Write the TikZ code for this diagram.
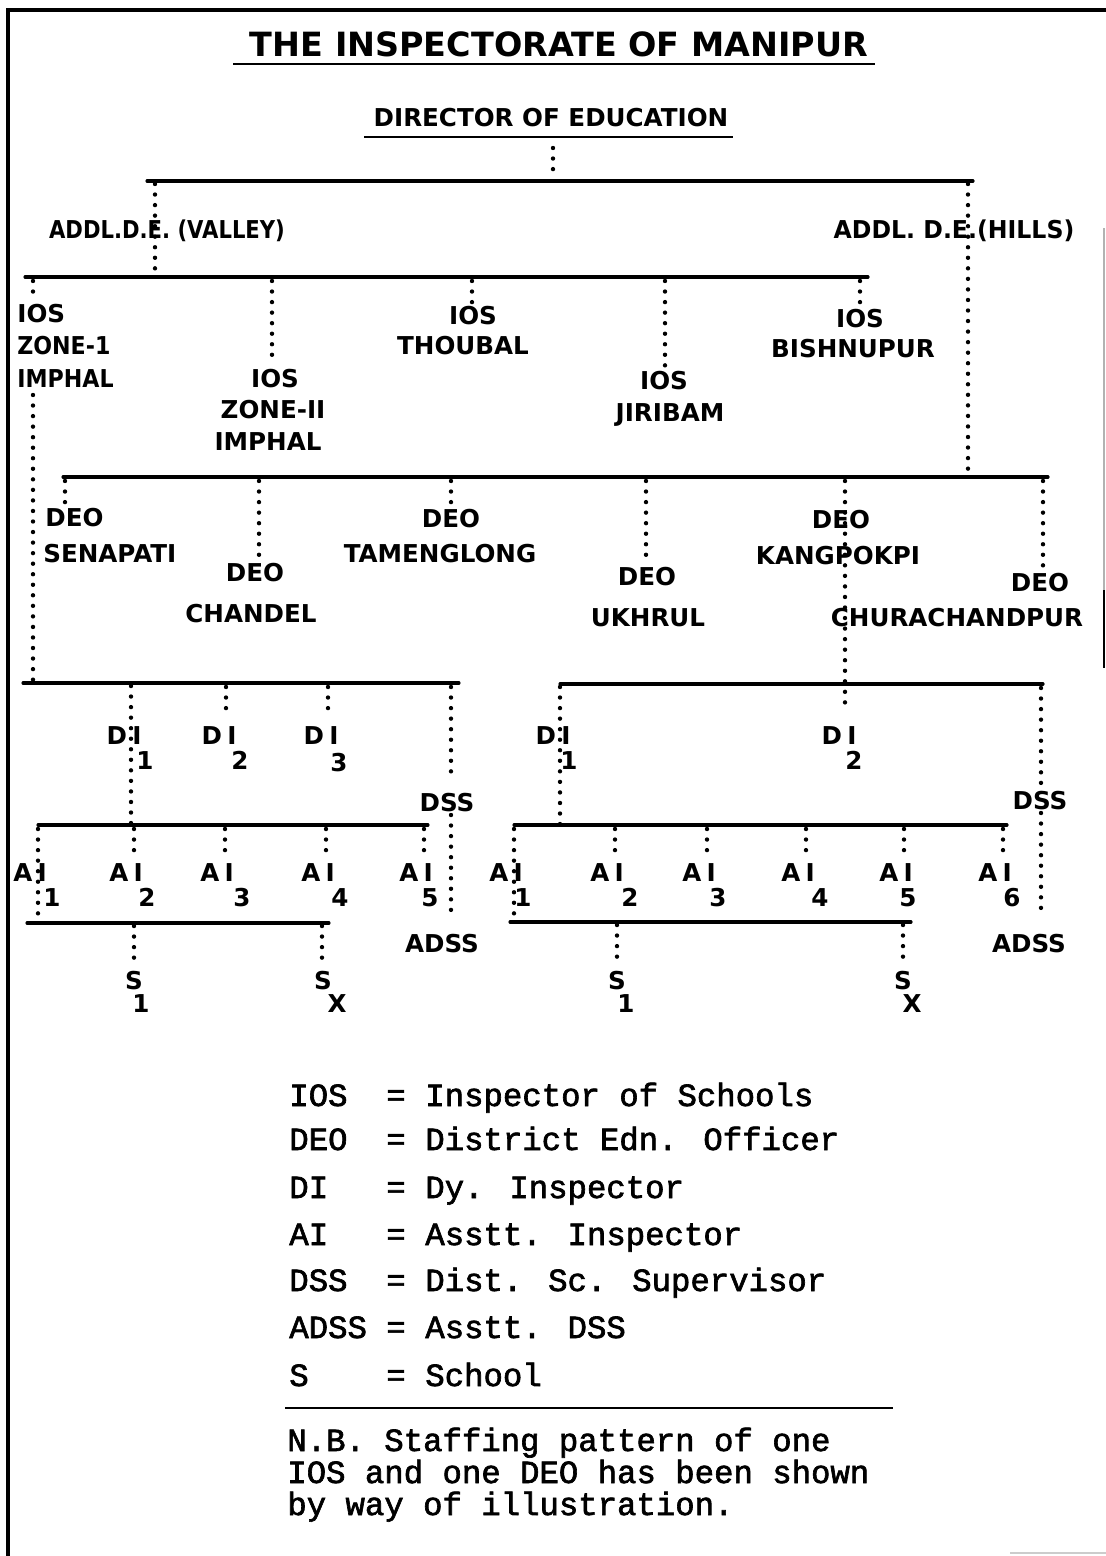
\documentclass[tikz,border=0pt]{standalone}
\usepackage{fontspec}
\usepackage{graphicx}
\newfontfamily\lab{DejaVu Sans}
\newfontfamily\mono[FakeBold=2]{Liberation Mono}
\begin{document}
\begin{tikzpicture}[x=0.02cm,y=-0.02cm]
\tikzset{
  frame/.style={line width=1.8pt},
  bar/.style={line width=1.8pt, line cap=round},
  ul/.style={line width=1.6pt},
  dots/.style={line width=2.5pt, line cap=round, dash pattern=on 0pt off 6pt},
  lab/.style={font=\lab\bfseries\fontsize{14}{17}\selectfont, inner sep=0pt, text height=10.3pt, text depth=0pt},
  ttl/.style={font=\lab\bfseries\fontsize{19}{22}\selectfont, inner sep=0pt, text height=13.9pt, text depth=0pt},
  leg/.style={font=\mono\fontsize{18.4}{22}\selectfont, inner sep=0pt},
}
\useasboundingbox (0,0) rectangle (1106,1556);
% frame
\draw[frame] (8,1556) -- (8,10) -- (1106,10);
\draw[line width=0.8pt, gray!60] (1104,228) -- (1104,590);
\draw[line width=1.5pt] (1104,590) -- (1104,668);
\draw[line width=0.8pt, gray!40] (1010,1553) -- (1106,1553);

% title
\node[ttl] (title) at (559,44) {THE INSPECTORATE OF MANIPUR};
\draw[ul] (233,64) -- (875,64);
\node[lab] (dir) at (551,117) {DIRECTOR OF EDUCATION};
\draw[ul] (364,137) -- (733,137);

% bars
\coordinate (b1L) at (147,181); \coordinate (b1R) at (973,181);
\coordinate (b2L) at (25,277);  \coordinate (b2R) at (868,277);
\coordinate (b3L) at (63,477);  \coordinate (b3R) at (1048,477);
\coordinate (b4L) at (23,683);  \coordinate (b4R) at (459,683);
\coordinate (b5L) at (560,684); \coordinate (b5R) at (1043,684);
\coordinate (b6L) at (38,825);  \coordinate (b6R) at (428,825);
\coordinate (b7L) at (514,825); \coordinate (b7R) at (1007,825);
\coordinate (b8L) at (27,923);  \coordinate (b8R) at (329,923);
\coordinate (b9L) at (510,922); \coordinate (b9R) at (911,922);
\foreach \b in {1,...,9} {\draw[bar] (b\b L) -- (b\b R);}

% level 1
\coordinate (t0) at (553,148);
\draw[dots] (t0) -- (t0 |- 0,176);
\node[lab] (valley) at (167,229) {\scalebox{0.86}[1]{ADDL.D.E. (VALLEY)}};
\node[lab] (hills) at (954,229) {\scalebox{0.96}[1]{ADDL. D.E.(HILLS)}};
\coordinate (tv) at (155,184);
\draw[dots] (tv) -- (tv |- b2L);
\coordinate (th) at (968,184);
\draw[dots] (th) -- (th |- 0,471);

% IOS
\node[lab, anchor=west] (ios1a) at (17,313) {IOS};
\node[lab, anchor=west] (ios1b) at (17,345) {\scalebox{0.9}[1]{ZONE-1}};
\node[lab, anchor=west] (ios1c) at (17,378) {\scalebox{0.9}[1]{IMPHAL}};
\node[lab] (ios2a) at (275,378) {IOS};
\node[lab] (ios2b) at (273,409) {ZONE-II};
\node[lab] (ios2c) at (268,441) {IMPHAL};
\node[lab] (ios3a) at (473,315) {IOS};
\node[lab] (ios3b) at (463,345) {THOUBAL};
\node[lab] (ios4a) at (664,380) {IOS};
\node[lab] (ios4b) at (670,412) {JIRIBAM};
\node[lab] (ios5a) at (860,318) {IOS};
\node[lab] (ios5b) at (853,348) {BISHNUPUR};
\coordinate (tz1) at (33,281);
\draw[dots] (tz1) -- (tz1 |- 0,297);
\draw[dots] (tz1 |- 0,395) -- (tz1 |- b4L);
\foreach \x/\n in {272/2,472/3,665/4,860/5} {
  \coordinate (tz\n) at (\x,281);
  \draw[dots] (tz\n) -- ([yshift=2pt]tz\n |- ios\n a.north);
}

% DEO
\node[lab, anchor=west] (deo1a) at (45,517) {DEO};
\node[lab, anchor=west] (deo1b) at (43,553) {SENAPATI};
\node[lab] (deo2a) at (255,572) {DEO};
\node[lab] (deo2b) at (251,613) {CHANDEL};
\node[lab] (deo3a) at (451,518) {DEO};
\node[lab] (deo3b) at (440,553) {TAMENGLONG};
\node[lab] (deo4a) at (647,576) {DEO};
\node[lab] (deo4b) at (648,617) {UKHRUL};
\node[lab] (deo5a) at (841,519) {DEO};
\node[lab] (deo5b) at (838,555) {KANGPOKPI};
\node[lab] (deo6a) at (1040,582) {DEO};
\node[lab] (deo6b) at (957,617) {CHURACHANDPUR};
\foreach \x/\n in {65/1,259/2,451/3,646/4,1043/6} {
  \coordinate (td\n) at (\x,481);
  \draw[dots] (td\n) -- ([yshift=3pt]td\n |- deo\n a.north);
}
\coordinate (td5) at (845,481);

% left DI level
\node[lab] (ldi1) at (124,735) {D\kern3pt I};
\node[lab] (ldi1s) at (145,760) {1};
\node[lab] (ldi2) at (219,735) {D\kern3pt I};
\node[lab] (ldi2s) at (240,760) {2};
\node[lab] (ldi3) at (321,735) {D\kern3pt I};
\node[lab] (ldi3s) at (339,762) {3};
\node[lab] (ldss) at (447,802) {DSS};
\node[lab] (ladss) at (442,943) {ADSS};
\coordinate (tl1) at (131,686);
\draw[dots] (tl1) -- (tl1 |- b6L);
\coordinate (tl2) at (226,687);
\draw[dots] (tl2) -- (tl2 |- 0,712);
\coordinate (tl3) at (328,687);
\draw[dots] (tl3) -- (tl3 |- 0,716);
\coordinate (tl4) at (451,687);
\draw[dots] (tl4) -- (tl4 |- 0,780);
\draw[dots] (tl4 |- 0,815) -- (tl4 |- 0,912);

% right DI level
\draw[dots] (td5) -- (td5 |- 0,712);
\node[lab] (rdi1) at (553,735) {D\kern3pt I};
\node[lab] (rdi1s) at (569,760) {1};
\node[lab] (rdi2) at (839,735) {D\kern3pt I};
\node[lab] (rdi2s) at (854,760) {2};
\node[lab] (rdss) at (1040,800) {DSS};
\node[lab] (radss) at (1029,943) {ADSS};
\coordinate (tr1) at (560,687);
\draw[dots] (tr1) -- (tr1 |- b7L);
\coordinate (tr4) at (1041,688);
\draw[dots] (tr4) -- (tr4 |- 0,789);
\draw[dots] (tr4 |- 0,813) -- (tr4 |- 0,910);

% left AI level
\foreach \x/\n in {38/1,134/2,225/3,326/4,424/5} {
  \node[lab] (lai\n) at (\x-8,872) {A\kern3pt I};
  \coordinate (la\n) at (\x,829);
}
\node[lab] (lai1s) at (52,897) {1};
\node[lab] (lai2s) at (147,897) {2};
\node[lab] (lai3s) at (242,897) {3};
\node[lab] (lai4s) at (340,897) {4};
\node[lab] (lai5s) at (430,897) {5};
\draw[dots] (la1) -- (la1 |- b8L);
\foreach \n in {2,3,4,5} {\draw[dots] (la\n) -- (la\n |- 0,856);}

% right AI level
\foreach \x/\n in {514/1,615/2,707/3,806/4,904/5,1003/6} {
  \node[lab] (rai\n) at (\x-8,872) {A\kern3pt I};
  \coordinate (ra\n) at (\x,829);
}
\node[lab] (rai1s) at (523,897) {1};
\node[lab] (rai2s) at (630,897) {2};
\node[lab] (rai3s) at (718,897) {3};
\node[lab] (rai4s) at (820,897) {4};
\node[lab] (rai5s) at (908,897) {5};
\node[lab] (rai6s) at (1012,897) {6};
\draw[dots] (ra1) -- (ra1 |- b9L);
\foreach \n in {2,3,4,5,6} {\draw[dots] (ra\n) -- (ra\n |- 0,856);}

% schools
\node[lab] (ls1) at (134,980) {S};
\node[lab] (ls1s) at (141,1003) {1};
\node[lab] (lsx) at (323,980) {S};
\node[lab] (lsxs) at (337,1003) {X};
\node[lab] (rs1) at (617,980) {S};
\node[lab] (rs1s) at (626,1003) {1};
\node[lab] (rsx) at (903,980) {S};
\node[lab] (rsxs) at (912,1003) {X};
\foreach \x/\n/\y in {134/ls1/926,322/lsx/926,617/rs1/925,903/rsx/925} {
  \coordinate (c\n) at (\x,\y);
  \draw[dots] (c\n) -- (c\n |- 0,965);
}

% legend
\foreach \yy/\k/\v [count=\i] in {1106/IOS/Inspector of Schools,1150/DEO/District Edn. Officer,1198/DI/Dy. Inspector,1245/AI/Asstt. Inspector,1291/DSS/Dist. Sc. Supervisor,1338/ADSS/Asstt. DSS,1386/S/School} {
  \node[leg, anchor=base west] (k\i) at (289,\yy) {\k};
  \node[leg, anchor=base] (e\i) at (396,\yy) {=};
  \node[leg, anchor=base west] (v\i) at (425,\yy) {\v};
}
\draw[ul] (285,1408) -- (893,1408);
\node[leg, anchor=base west] (nb1) at (287,1451) {N.B. Staffing pattern of one};
\node[leg, anchor=base west] (nb2) at (287,1483) {IOS and one DEO has been shown};
\node[leg, anchor=base west] (nb3) at (287,1515) {by way of illustration.};
\end{tikzpicture}
\end{document}
